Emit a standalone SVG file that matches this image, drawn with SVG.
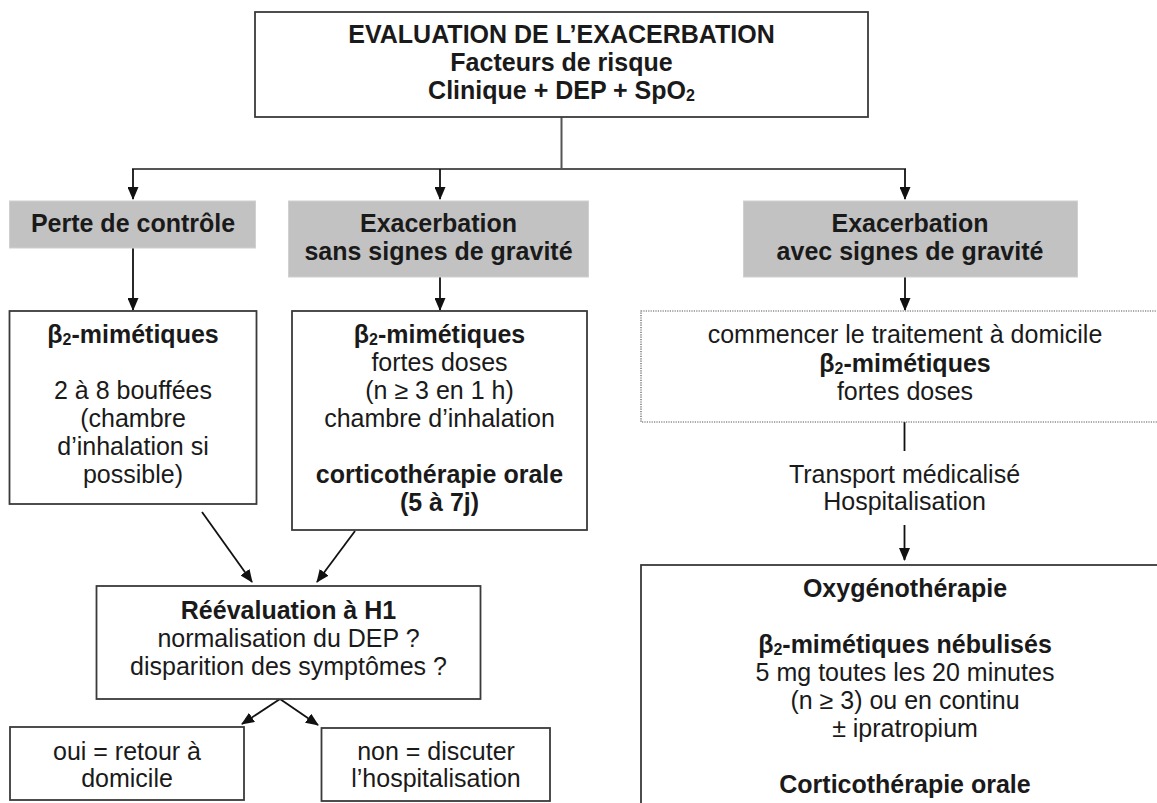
<svg xmlns="http://www.w3.org/2000/svg" width="1157" height="803" viewBox="0 0 1157 803">
<style>
text{font-family:"Liberation Sans",Arial,sans-serif;font-size:25px;fill:#1a1a1a;text-anchor:middle}
.b{font-weight:bold}
.box{fill:#fff;stroke:#3a3a3a;stroke-width:1.8}
.grey{fill:#c2c2c2;stroke:#d0d0d0;stroke-width:1}
.dot{fill:#fff;stroke:#555;stroke-width:1.2;stroke-dasharray:1.2 1.2}
.ln{fill:none;stroke:#555;stroke-width:2}
.ar{fill:none;stroke:#111;stroke-width:1.8;marker-end:url(#ah)}
.sub{font-size:16px}
</style>
<defs>
<marker id="ah" markerUnits="userSpaceOnUse" viewBox="0 0 13 11" markerWidth="13" markerHeight="11" refX="12" refY="5.5" orient="auto">
<path d="M0,0 L13,5.5 L0,11 z" fill="#111"/>
</marker>
</defs>
<rect width="1157" height="803" fill="#fff"/>

<g id="connectors">
<line class="ln" x1="561.5" y1="117" x2="561.5" y2="169"/>
<line class="ln" x1="132" y1="169" x2="906" y2="169"/>
<line class="ar" x1="133" y1="169" x2="133" y2="199"/>
<line class="ar" x1="440" y1="169" x2="440" y2="199"/>
<line class="ar" x1="905" y1="169" x2="905" y2="199"/>
<line class="ar" x1="133" y1="248" x2="133" y2="310"/>
<line class="ar" x1="440" y1="277" x2="440" y2="310"/>
<line class="ar" x1="905" y1="277" x2="905" y2="310"/>
<line class="ar" x1="202" y1="512" x2="252" y2="582"/>
<line class="ar" x1="355" y1="531" x2="317" y2="582"/>
<line class="ar" x1="280" y1="699" x2="242" y2="724"/>
<line class="ar" x1="280" y1="699" x2="318" y2="725"/>
<line x1="904.5" y1="422" x2="904.5" y2="451" stroke="#111" stroke-width="1.8"/>
<line class="ar" x1="904.5" y1="525" x2="904.5" y2="560"/>
</g>

<g id="n-top">
<rect class="box" x="255" y="12" width="613" height="105"/>
<text class="b" x="561.5" y="43">EVALUATION DE L’EXACERBATION</text>
<text class="b" x="561.5" y="71">Facteurs de risque</text>
<text class="b" x="561.5" y="99">Clinique + DEP + SpO<tspan class="sub" dy="2">2</tspan></text>
</g>

<g id="n-perte">
<rect class="grey" x="9.5" y="201" width="246" height="47"/>
<text class="b" x="133" y="232">Perte de contrôle</text>
</g>

<g id="n-sans">
<rect class="grey" x="288.5" y="201" width="300" height="76"/>
<text class="b" x="438.5" y="232">Exacerbation</text>
<text class="b" x="438.5" y="260">sans signes de gravité</text>
</g>

<g id="n-avec">
<rect class="grey" x="743.5" y="201" width="334" height="76"/>
<text class="b" x="910" y="232">Exacerbation</text>
<text class="b" x="910" y="260">avec signes de gravité</text>
</g>

<g id="n-beta1">
<rect class="box" x="9.5" y="311" width="247" height="193"/>
<text class="b" x="133" y="343">β<tspan class="sub" dy="2">2</tspan><tspan dy="-2">-mimétiques</tspan></text>
<text x="133" y="399">2 à 8 bouffées</text>
<text x="133" y="427">(chambre</text>
<text x="133" y="455">d’inhalation si</text>
<text x="133" y="483">possible)</text>
</g>

<g id="n-beta2">
<rect class="box" x="292" y="311" width="295" height="219"/>
<text class="b" x="439.5" y="343">β<tspan class="sub" dy="2">2</tspan><tspan dy="-2">-mimétiques</tspan></text>
<text x="439.5" y="371">fortes doses</text>
<text x="439.5" y="399">(n ≥ 3 en 1 h)</text>
<text x="439.5" y="427">chambre d’inhalation</text>
<text class="b" x="439.5" y="483">corticothérapie orale</text>
<text class="b" x="439.5" y="511">(5 à 7j)</text>
</g>

<g id="n-domicile">
<rect class="dot" x="641" y="311" width="530" height="111"/>
<text x="905" y="343">commencer le traitement à domicile</text>
<text class="b" x="905" y="372">β<tspan class="sub" dy="2">2</tspan><tspan dy="-2">-mimétiques</tspan></text>
<text x="905" y="400">fortes doses</text>
</g>

<g id="n-transport">
<text x="904.5" y="483">Transport médicalisé</text>
<text x="904.5" y="510">Hospitalisation</text>
</g>

<g id="n-reeval">
<rect class="box" x="96.5" y="586" width="384" height="113"/>
<text class="b" x="288.5" y="619">Réévaluation à H1</text>
<text x="288.5" y="647">normalisation du DEP ?</text>
<text x="288.5" y="675">disparition des symptômes ?</text>
</g>

<g id="n-oui">
<rect class="box" x="10" y="727" width="234" height="73"/>
<text x="127" y="760">oui = retour à</text>
<text x="127" y="787">domicile</text>
</g>

<g id="n-non">
<rect class="box" x="321.5" y="728" width="228.5" height="73"/>
<text x="436" y="760">non = discuter</text>
<text x="436" y="787">l’hospitalisation</text>
</g>

<g id="n-oxygen">
<rect class="box" x="641" y="565" width="530" height="260"/>
<text class="b" x="905" y="597">Oxygénothérapie</text>
<text class="b" x="905" y="653">β<tspan class="sub" dy="2">2</tspan><tspan dy="-2">-mimétiques nébulisés</tspan></text>
<text x="905" y="681">5 mg toutes les 20 minutes</text>
<text x="905" y="709">(n ≥ 3) ou en continu</text>
<text x="905" y="737">± ipratropium</text>
<text class="b" x="905" y="793">Corticothérapie orale</text>
</g>
</svg>
